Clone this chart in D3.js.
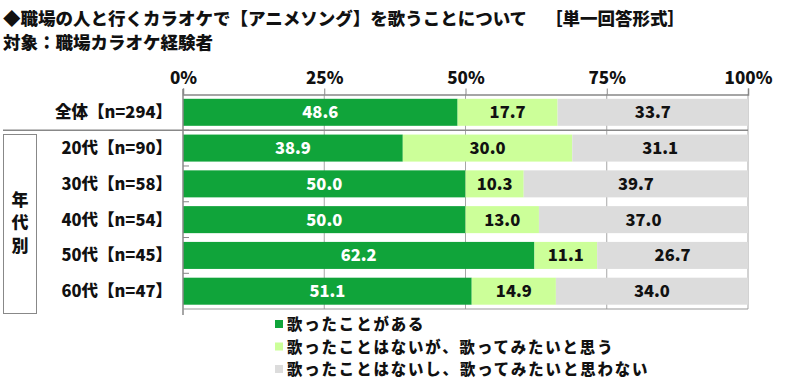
<!DOCTYPE html>
<html><head><meta charset="utf-8">
<script src="https://cdn.jsdelivr.net/npm/d3@7"></script>
<style>
body{margin:0;background:#fff;}
text{font-family:"Noto Sans CJK JP","Noto Sans",sans-serif;font-weight:900;}
</style></head>
<body><svg id="c" width="800" height="383"></svg>
<script>
const categories = ["全体【n=294】","20代【n=90】","30代【n=58】","40代【n=54】","50代【n=45】","60代【n=47】"];
const seriesNames = ["歌ったことがある","歌ったことはないが、歌ってみたいと思う","歌ったことはないし、歌ってみたいと思わない"];
const sungValues = [48.6,38.9,50.0,50.0,62.2,51.1];
const wantValues = [17.7,30.0,10.3,13.0,11.1,14.9];
const notValues  = [33.7,31.1,39.7,37.0,26.7,34.0];
const tickValues = [0,25,50,75,100];
const colors = ["#10a43a","#ccff99","#dcdcdc"];
const textColors = ["#ffffff","#111111","#111111"];

const svg = d3.select("#c");
const x = d3.scaleLinear().domain([0,100]).range([183,748]);
const y = d3.scaleBand().domain(categories).range([94.5,309]).paddingInner(0.245).paddingOuter(0.12);

// title
svg.append("text").attr("x",3).attr("y",25).attr("font-size",17.5).attr("fill","#111")
  .text("◆職場の人と行くカラオケで【アニメソング】を歌うことについて");
svg.append("text").attr("x",545).attr("y",25).attr("font-size",17.5).attr("fill","#111")
  .text("［単一回答形式］");
svg.append("text").attr("x",3).attr("y",49).attr("font-size",17.5).attr("fill","#111")
  .text("対象：職場カラオケ経験者");

// gridlines
svg.append("g").selectAll("line").data(tickValues.slice(1)).join("line")
  .attr("x1",d=>x(d)).attr("x2",d=>x(d)).attr("y1",94).attr("y2",309)
  .attr("stroke","#a6a6a6").attr("stroke-width",1);

// top axis
const axis = d3.axisTop(x).tickValues(tickValues).tickFormat(d=>d+"%").tickSize(6).tickPadding(5);
const ag = svg.append("g").attr("transform","translate(0,94.5)").call(axis);
ag.select(".domain").attr("stroke","#888").attr("stroke-width",1.5);
ag.selectAll(".tick line").attr("stroke","#888");
ag.selectAll(".tick text").attr("font-size",17).attr("fill","#111")
  .style("font-family","'Noto Sans CJK JP',sans-serif").style("font-weight","900");

// stacked data
const rows = categories.map((c,i)=>({cat:c, vals:[sungValues[i],wantValues[i],notValues[i]]}));
const segs = [];
rows.forEach(r=>{let acc=0; r.vals.forEach((v,k)=>{segs.push({cat:r.cat,k,v,x0:acc,x1:acc+v}); acc+=v;});});

svg.append("g").selectAll("rect").data(segs).join("rect")
  .attr("x",d=>x(d.x0)).attr("width",d=>x(d.x1)-x(d.x0))
  .attr("y",d=>y(d.cat)).attr("height",y.bandwidth())
  .attr("fill",d=>colors[d.k]);

svg.append("g").selectAll("text").data(segs).join("text")
  .attr("x",d=>(x(d.x0)+x(d.x1))/2).attr("y",d=>y(d.cat)+y.bandwidth()/2+6)
  .attr("text-anchor","middle").attr("font-size",16.5).attr("fill",d=>textColors[d.k])
  .text(d=>d.v.toFixed(1));

// left axis line, bottom line
svg.append("line").attr("x1",183).attr("x2",183).attr("y1",89).attr("y2",315).attr("stroke","#888").attr("stroke-width",1.5);
svg.append("line").attr("x1",183).attr("x2",748).attr("y1",309).attr("y2",309).attr("stroke","#999").attr("stroke-width",1);
// small category ticks
const bounds = categories.slice(1).map(c=>y(c)-y.step()*y.paddingInner()/2);
svg.append("g").selectAll("line").data(bounds).join("line")
  .attr("x1",183).attr("x2",189).attr("y1",d=>d).attr("y2",d=>d).attr("stroke","#888");
// separator between total and ages
svg.append("line").attr("x1",3).attr("x2",748).attr("y1",bounds[0]).attr("y2",bounds[0]).attr("stroke","#888").attr("stroke-width",1.5);

// category labels
svg.append("g").selectAll("text").data(categories).join("text")
  .attr("x",172).attr("y",d=>y(d)+y.bandwidth()/2+6).attr("text-anchor","end")
  .attr("font-size",16.5).attr("fill","#111").text(d=>d);

// group box
svg.append("rect").attr("x",3.5).attr("y",134.5).attr("width",33).attr("height",179)
  .attr("fill","none").attr("stroke","#888").attr("stroke-width",1);
["年","代","別"].forEach((ch,i)=>{
  svg.append("text").attr("x",20).attr("y",206+i*23).attr("text-anchor","middle")
    .attr("font-size",17).attr("fill","#111").text(ch);
});

// legend
const lg = svg.append("g").selectAll("g").data(seriesNames).join("g")
  .attr("transform",(d,i)=>`translate(275,${324+i*22.5})`);
lg.append("rect").attr("x",0).attr("y",-4).attr("width",8).attr("height",8).attr("fill",(d,i)=>colors[i]);
lg.append("text").attr("x",12).attr("y",6).attr("font-size",15.4).attr("letter-spacing",1.9)
  .attr("fill","#111").text(d=>d);
</script></body></html>
